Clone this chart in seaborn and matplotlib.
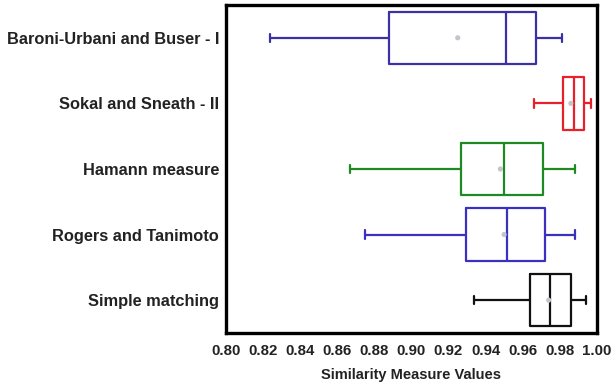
import numpy as np
import pandas as pd
import matplotlib
matplotlib.use("Agg")
import matplotlib.pyplot as plt
import seaborn as sns

# five-number summaries (min, Q1, median, Q3, max)
measures = [
    "Baroni-Urbani and Buser - I",
    "Sokal and Sneath - II",
    "Hamann measure",
    "Rogers and Tanimoto",
    "Simple matching",
]
baroni = [0.824, 0.888, 0.951, 0.967, 0.981]
sokal = [0.966, 0.9815, 0.9875, 0.993, 0.997]
hamann = [0.867, 0.927, 0.950, 0.971, 0.988]
rogers = [0.875, 0.9295, 0.9515, 0.972, 0.9885]
simple = [0.934, 0.964, 0.975, 0.986, 0.994]
means = [0.925, 0.986, 0.948, 0.950, 0.974]
colors = ["#3b30a6", "#e8202a", "#1f8a24", "#3b30c0", "#111111"]

df = pd.DataFrame({
    "measure": np.repeat(measures, 5),
    "value": baroni + sokal + hamann + rogers + simple,
})
mean_df = pd.DataFrame({"measure": measures, "value": means})

sns.set_style("white")
plt.rcParams["font.family"] = ["Liberation Sans", "DejaVu Sans"]
plt.rcParams["font.weight"] = "bold"

fig, ax = plt.subplots(figsize=(6.14, 3.84), dpi=100)
fig.subplots_adjust(left=0.368, right=0.972, top=0.987, bottom=0.133)

sns.boxplot(data=df, x="value", y="measure", order=measures, hue="measure",
            palette=colors, fill=False, whis=(0, 100), width=0.8,
            linewidth=1.6, legend=False, capwidths=0.13, ax=ax)
sns.scatterplot(data=mean_df, x="value", y="measure", color="#c4c4cc",
                s=14, edgecolor="none", ax=ax, zorder=3)

ax.set_xlim(0.80, 1.00)
ax.set_ylim(4.5, -0.5)
ax.set_xticks(np.arange(0.80, 1.001, 0.02))
ax.xaxis.set_major_formatter(matplotlib.ticker.FormatStrFormatter("%.2f"))
ax.set_xlabel("Similarity Measure Values", fontsize=10.5, fontweight="bold",
              color="#222222", labelpad=7)
ax.set_ylabel("")
ax.tick_params(axis="x", length=0, labelsize=10.8, labelcolor="#222222", pad=8)
ax.tick_params(axis="y", length=0, labelsize=11.8, labelcolor="#222222", pad=5)
for s in ax.spines.values():
    s.set_visible(True)
    s.set_linewidth(2.4)
    s.set_color("black")

plt.savefig("out.png", dpi=100)
